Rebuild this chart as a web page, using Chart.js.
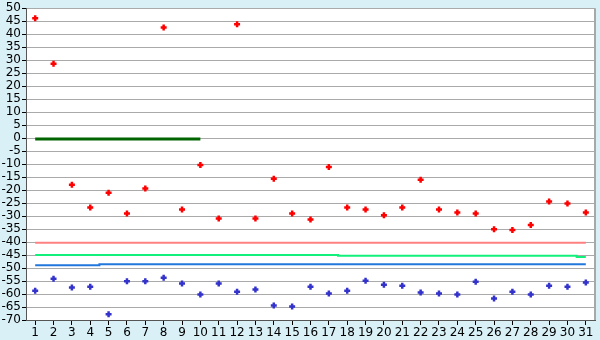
<!DOCTYPE html>
<html>
<head>
<meta charset="utf-8">
<script src="https://cdn.jsdelivr.net/npm/chart.js@4"></script>
<style>
html,body{margin:0;padding:0;background:#d9f0f7;}
#wrap{width:600px;height:340px;}
canvas{display:block;}
</style>
</head>
<body>
<div id="wrap"><canvas id="c" width="600" height="340"></canvas></div>
<script>
const categories = Array.from({length:31},(_,i)=>String(i+1));
const yTicks = {min:-70, max:50, step:5};
const redValues = [46.1,28.6,-17.9,-26.7,-21,-29,-19.4,42.6,-27.5,-10.3,-30.9,43.8,-30.9,-15.6,-29,-31.3,-11.1,-26.7,-27.5,-29.7,-26.7,-16,-27.5,-28.6,-29,-35.1,-35.4,-33.4,-24.4,-25.2,-28.6];
const blueValues = [-58.7,-54.1,-57.5,-57.2,-67.8,-55.1,-55.1,-53.7,-56,-60.2,-56,-59.1,-58.3,-64.4,-64.8,-57.2,-59.8,-58.7,-54.9,-56.4,-56.8,-59.4,-59.8,-60.2,-55.3,-61.7,-59.1,-60.2,-56.8,-57.2,-55.6];
const pinkLine = Array(31).fill(-40.3);
const greenLine = [...Array(17).fill(-45), ...Array(13).fill(-45.3), -45.8];
const blueLine = [...Array(4).fill(-48.9), ...Array(27).fill(-48.5)];
const darkGreenLine = [...Array(10).fill(-0.3), ...Array(21).fill(null)];

const bgPlugin = {
  id:'bg',
  beforeDraw(chart){
    const {ctx, chartArea:a} = chart;
    ctx.save();
    ctx.fillStyle='#d9f0f7';
    ctx.fillRect(0,0,chart.width,chart.height);
    ctx.fillStyle='#ffffff';
    ctx.fillRect(a.left,a.top,a.right-a.left,a.bottom-a.top);
    ctx.restore();
  },
  afterDatasetsDraw(chart){
    const {ctx, chartArea:a} = chart;
    ctx.save();
    ctx.strokeStyle='#a8a8a8';
    ctx.lineWidth=2;
    ctx.beginPath();
    ctx.moveTo(a.right, a.top);
    ctx.lineTo(a.right, a.bottom);
    ctx.stroke();
    ctx.restore();
  }
};

function lineDs(data, color, width, stepped){
  return {type:'line', data, borderColor:color, borderWidth:width, pointRadius:0, pointHoverRadius:0, fill:false, stepped:stepped||false, spanGaps:false, tension:0};
}
function ptDs(data, color){
  return {type:'line', data, showLine:false, pointStyle:'cross', pointRadius:3, borderWidth:2.5, borderColor:color, backgroundColor:color};
}

new Chart(document.getElementById('c'), {
  type:'line',
  data:{
    labels:categories,
    datasets:[
      ptDs(redValues,'#ff0000'),
      ptDs(blueValues,'#3333cc'),
      lineDs(darkGreenLine,'#006400',3),
      lineDs(pinkLine,'#ff8080',2),
      lineDs(greenLine,'#11f07a',2,'middle'),
      lineDs(blueLine,'#2277dd',2,'middle'),
    ]
  },
  options:{
    responsive:false,
    animation:false,
    devicePixelRatio:1,
    layout:{padding:{top:5,right:5,bottom:0,left:0}, autoPadding:false},
    plugins:{legend:{display:false}, tooltip:{enabled:false}},
    scales:{
      x:{
        type:'category',
        offset:true,
        grid:{drawOnChartArea:false, drawTicks:true, tickLength:5, tickColor:'#000', offset:false},
        border:{display:true, color:'#555', width:1},
        ticks:{autoSkip:false, maxRotation:0, minRotation:0, padding:1, color:'#000', font:{family:'DejaVu Sans', size:12}},
        afterFit(s){ s.height = 20; }
      },
      y:{
        min:yTicks.min, max:yTicks.max,
        grid:{color:'#aaaaaa', lineWidth:1, tickLength:4, tickColor:'#000'},
        border:{display:true, color:'#555', width:1},
        ticks:{stepSize:yTicks.step, autoSkip:false, padding:1, color:'#000', font:{family:'DejaVu Sans', size:12}},
        afterFit(s){ s.width = 26; }
      }
    }
  },
  plugins:[bgPlugin]
});
</script>
</body>
</html>
